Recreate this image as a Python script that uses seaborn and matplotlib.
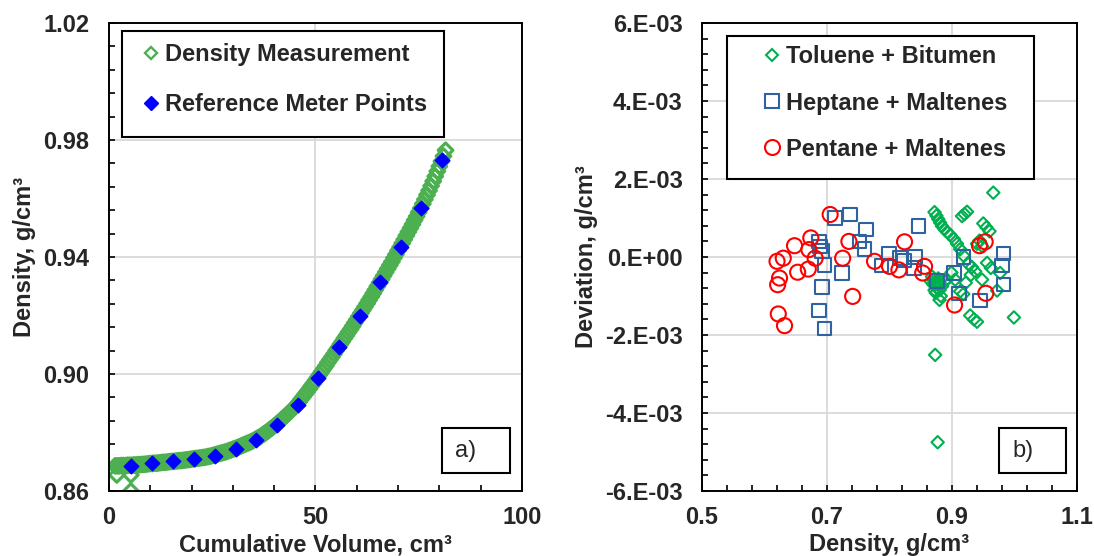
import matplotlib
matplotlib.use("Agg")
import matplotlib.pyplot as plt
from matplotlib.lines import Line2D
from matplotlib.patches import Rectangle
from matplotlib.ticker import MultipleLocator, FuncFormatter
import seaborn as sns

# ---- data: panel a) -------------------------------------------------------
meas_vol = [
    1.5, 2.0, 2.5, 3.0, 3.5, 4.0, 4.5, 5.0, 5.5, 6.0, 6.5, 7.0, 7.5, 8.0, 8.5,
    9.0, 9.5, 10.0, 10.5, 11.0, 11.5, 12.0, 12.5, 13.0, 13.5, 14.0, 14.5, 15.0,
    15.5, 16.0, 16.5, 17.0, 17.5, 18.0, 18.5, 19.0, 19.5, 20.0, 20.5, 21.0,
    21.5, 22.0, 22.5, 23.0, 23.5, 24.0, 24.5, 25.0, 25.5, 26.0, 26.5, 27.0,
    27.5, 28.0, 28.5, 29.0, 29.5, 30.0, 30.5, 31.0, 31.5, 32.0, 32.5, 33.0,
    33.5, 34.0, 34.5, 35.0, 35.5, 36.0, 36.5, 37.0, 37.5, 38.0, 38.5, 39.0,
    39.5, 40.0, 40.5, 41.0, 41.5, 42.0, 42.5, 43.0, 43.5, 44.0, 44.5, 45.0,
    45.5, 46.0, 46.5, 47.0, 47.5, 48.0, 48.5, 49.0, 49.5, 50.0, 50.5, 51.0,
    51.5, 52.0, 52.5, 53.0, 53.5, 54.0, 54.5, 55.0, 55.5, 56.0, 56.5, 57.0,
    57.5, 58.0, 58.5, 59.0, 59.5, 60.0, 60.5, 61.0, 61.5, 62.0, 62.5, 63.0,
    63.5, 64.0, 64.5, 65.0, 65.5, 66.0, 66.5, 67.0, 67.5, 68.0, 68.5, 69.0,
    69.5, 70.0, 70.5, 71.0, 71.5, 72.0, 72.5, 73.0, 73.5, 74.0, 74.5, 75.0,
    75.5, 76.0, 76.5, 77.0, 77.5, 78.0, 78.5, 79.0, 79.5, 80.0, 80.5, 81.0,
    81.5,
    1.9, 5.3, 5.3,
]
meas_dens = [
    0.8686, 0.8686, 0.8686, 0.8687, 0.8687, 0.8687, 0.8688, 0.8688, 0.8688,
    0.8689, 0.8689, 0.8690, 0.8690, 0.8691, 0.8691, 0.8692, 0.8693, 0.8694,
    0.8694, 0.8695, 0.8695, 0.8696, 0.8697, 0.8698, 0.8698, 0.8699, 0.8700,
    0.8701, 0.8701, 0.8702, 0.8703, 0.8704, 0.8704, 0.8705, 0.8706, 0.8707,
    0.8708, 0.8709, 0.8710, 0.8711, 0.8712, 0.8713, 0.8714, 0.8715, 0.8716,
    0.8718, 0.8719, 0.8721, 0.8723, 0.8725, 0.8727, 0.8729, 0.8731, 0.8733,
    0.8735, 0.8738, 0.8740, 0.8743, 0.8745, 0.8748, 0.8751, 0.8754, 0.8757,
    0.8760, 0.8763, 0.8766, 0.8769, 0.8773, 0.8777, 0.8781, 0.8785, 0.8790,
    0.8795, 0.8800, 0.8805, 0.8811, 0.8816, 0.8822, 0.8828, 0.8834, 0.8840,
    0.8847, 0.8853, 0.8860, 0.8866, 0.8873, 0.8880, 0.8887, 0.8895, 0.8904,
    0.8913, 0.8922, 0.8931, 0.8940, 0.8949, 0.8959, 0.8968, 0.8978, 0.8988,
    0.8998, 0.9008, 0.9018, 0.9028, 0.9039, 0.9049, 0.9059, 0.9069, 0.9080,
    0.9090, 0.9101, 0.9111, 0.9122, 0.9132, 0.9143, 0.9153, 0.9164, 0.9175,
    0.9186, 0.9197, 0.9208, 0.9219, 0.9230, 0.9241, 0.9253, 0.9264, 0.9276,
    0.9288, 0.9300, 0.9312, 0.9324, 0.9336, 0.9348, 0.9360, 0.9372, 0.9384,
    0.9397, 0.9409, 0.9422, 0.9434, 0.9447, 0.9460, 0.9473, 0.9486, 0.9499,
    0.9512, 0.9526, 0.9539, 0.9553, 0.9567, 0.9582, 0.9597, 0.9612, 0.9627,
    0.9643, 0.9659, 0.9676, 0.9693, 0.9710, 0.9727, 0.9745, 0.9765,
    0.8655, 0.8655, 0.8600,
]
ref_vol = [5.3, 10.5, 15.6, 20.7, 25.7, 30.7, 35.6, 40.6,
           45.7, 50.7, 55.7, 60.7, 65.7, 70.6, 75.6, 80.6]
ref_dens = [0.8687, 0.8695, 0.8701, 0.8709, 0.8721, 0.8745, 0.8776, 0.8827,
            0.8893, 0.8988, 0.9091, 0.9198, 0.9313, 0.9433, 0.9567, 0.9731]

# ---- data: panel b) (deviation in 1e-3 g/cm3) -----------------------------
tol_dens = [0.872, 0.875, 0.878, 0.881, 0.884, 0.888, 0.892, 0.897,
            0.903, 0.908, 0.913, 0.918,
            0.916, 0.920, 0.924, 0.950, 0.955, 0.960, 0.966, 0.944,
            0.940, 0.948,
            0.926, 0.932, 0.937, 0.956, 0.962, 0.977, 0.948, 0.972, 0.930,
            0.922, 0.913, 0.918, 0.905, 0.899,
            0.929, 0.935, 0.940, 0.999, 0.873, 0.877,
            0.866, 0.868, 0.870, 0.872, 0.874, 0.876, 0.878, 0.880, 0.878,
            0.876, 0.874, 0.872, 0.880, 0.882, 0.880, 0.884, 0.888, 0.892,
            0.870, 0.875, 0.877, 0.879]
tol_dev = [1.15, 1.06, 0.97, 0.88, 0.79, 0.71, 0.64, 0.57,
           0.46, 0.34, 0.20, 0.04,
           1.05, 1.10, 1.16, 0.86, 0.76, 0.66, 1.65, 0.42,
           0.34, 0.28,
           -0.18, -0.26, -0.37, -0.15, -0.28, -0.41, -0.58, -0.86, -0.46,
           -0.66, -0.88, -0.95, -0.58, -0.40,
           -1.50, -1.60, -1.66, -1.55, -2.51, -4.75,
           -0.62, -0.50, -0.58, -0.65, -0.70, -0.60, -0.55, -0.64, -0.72,
           -0.80, -0.92, -0.85, -0.85, -1.00, -1.10, -0.75, -0.62, -0.58,
           -0.70, -0.65, -0.63, -0.60]

hep_dens = [0.713, 0.737, 0.762, 0.752, 0.760, 0.687, 0.689, 0.692, 0.696,
            0.692, 0.687, 0.696, 0.724, 0.799, 0.787, 0.817, 0.823, 0.841,
            0.839, 0.846, 0.876, 0.903, 0.918, 0.911, 0.945, 0.982, 0.980,
            0.982]
hep_dev = [1.00, 1.09, 0.70, 0.40, 0.21, 0.40, 0.27, 0.15, -0.21,
           -0.77, -1.37, -1.83, -0.41, 0.09, -0.22, -0.03, -0.09, 0.00,
           -0.28, 0.79, -0.61, -0.41, 0.00, -0.93, -1.12, 0.09, -0.22,
           -0.71]

pen_dens = [0.705, 0.648, 0.674, 0.671, 0.681, 0.620, 0.630, 0.624, 0.621,
            0.653, 0.670, 0.735, 0.725, 0.741, 0.622, 0.632, 0.776, 0.800,
            0.815, 0.824, 0.856, 0.853, 0.904, 0.944, 0.953, 0.954]
pen_dev = [1.09, 0.29, 0.49, 0.19, -0.03, -0.11, -0.03, -0.54, -0.71,
           -0.39, -0.31, 0.40, -0.03, -1.01, -1.46, -1.76, -0.11, -0.24,
           -0.33, 0.39, -0.24, -0.41, -1.23, 0.29, 0.39, -0.93]

# ---- style ----------------------------------------------------------------
sns.set_style("white")
plt.rcParams["font.family"] = ["Liberation Sans", "DejaVu Sans"]
plt.rcParams["font.weight"] = "bold"
plt.rcParams["axes.labelweight"] = "bold"

GREEN_A = "#4CB050"
GREEN_B = "#00B050"
BLUE_SQ = "#2E62A0"
RED = "#FF0000"
BLUE = "#0000FF"
FS = 17

fig = plt.figure(figsize=(10.94, 5.56), dpi=100)
ax1 = fig.add_axes([0.0996, 0.1169, 0.3775, 0.8417])
ax2 = fig.add_axes([0.6417, 0.1169, 0.3428, 0.8417])


def scat(ax, x, y, marker, s, color, filled=False, lw=1.5, z=2):
    sns.scatterplot(x=x, y=y, ax=ax, marker=marker, s=s, color=color,
                    edgecolor=color, linewidth=lw, zorder=z, legend=False)
    coll = ax.collections[-1]
    if not filled:
        coll.set_facecolor("none")
    coll.set_edgecolor(color)


def frame_box(ax, x0, y0, x1, y1):
    ax.add_patch(Rectangle((x0, y0), x1 - x0, y1 - y0, transform=ax.transAxes,
                           facecolor="white", edgecolor="black", lw=1.5,
                           zorder=5, clip_on=False))


def style_axes(ax):
    ax.grid(True, which="major", color="#D9D9D9", lw=1.3)
    ax.set_axisbelow(True)
    for sp in ax.spines.values():
        sp.set_color("black")
        sp.set_linewidth(1.4)
    ax.tick_params(which="both", direction="in", length=4, width=1.2,
                   top=False, right=False, bottom=True, left=True,
                   color="black")
    ax.tick_params(axis="y", which="major", pad=14, labelsize=FS)
    ax.tick_params(axis="x", which="major", pad=11, labelsize=FS)
    for lab in ax.get_xticklabels() + ax.get_yticklabels():
        lab.set_fontweight("bold")


# ---- panel a) -------------------------------------------------------------
scat(ax1, meas_vol, meas_dens, "D", 55, GREEN_A, lw=2.3)
scat(ax1, ref_vol, ref_dens, "D", 55, BLUE, filled=True, lw=1.0, z=3)
ax1.set_xlim(0, 100)
ax1.set_ylim(0.86, 1.02)
ax1.xaxis.set_major_locator(MultipleLocator(50))
ax1.xaxis.set_minor_locator(MultipleLocator(10))
ax1.yaxis.set_major_locator(MultipleLocator(0.04, offset=0.02))
ax1.yaxis.set_minor_locator(MultipleLocator(0.008, offset=0.004))
ax1.yaxis.set_major_formatter(FuncFormatter(lambda v, p: f"{v:.2f}"))
ax1.xaxis.set_major_formatter(FuncFormatter(lambda v, p: f"{v:.0f}"))
style_axes(ax1)
ax1.set_xlabel("Cumulative Volume, cm³", fontsize=FS, fontweight="bold",
               labelpad=3)
ax1.set_ylabel("Density, g/cm³", fontsize=FS, fontweight="bold", labelpad=5)

frame_box(ax1, 0.031, 0.756, 0.811, 0.983)
hA = [Line2D([], [], ls="none", marker="D", ms=6.1, mfc="none", mec=GREEN_A,
             mew=1.7, label="Density Measurement"),
      Line2D([], [], ls="none", marker="D", ms=7.4, mfc=BLUE, mec=BLUE,
             label="Reference Meter Points")]
legA = ax1.legend(handles=hA, loc="upper left", bbox_to_anchor=(0.072, 0.957),
                  frameon=False, prop={"size": FS, "weight": "bold"},
                  handlelength=1.0, handletextpad=0.1, borderpad=0,
                  borderaxespad=0, labelspacing=1.15)
legA.set_zorder(6)

frame_box(ax1, 0.806, 0.038, 0.970, 0.135)
ax1.text(0.864, 0.086, "a)", transform=ax1.transAxes, ha="center",
         va="center", fontsize=FS, fontweight="normal", zorder=6)

# ---- panel b) -------------------------------------------------------------
tol_dev_v = [d * 1e-3 for d in tol_dev]
hep_dev_v = [d * 1e-3 for d in hep_dev]
pen_dev_v = [d * 1e-3 for d in pen_dev]
scat(ax2, tol_dens, tol_dev_v, "D", 40, GREEN_B, lw=1.5)
scat(ax2, hep_dens, hep_dev_v, "s", 95, BLUE_SQ, lw=1.5)
scat(ax2, pen_dens, pen_dev_v, "o", 118, RED, lw=1.5)
ax2.set_xlim(0.5, 1.1)
ax2.set_ylim(-6e-3, 6e-3)
ax2.xaxis.set_major_locator(MultipleLocator(0.2, offset=0.1))
ax2.xaxis.set_minor_locator(MultipleLocator(0.04, offset=0.02))
ax2.yaxis.set_major_locator(MultipleLocator(2e-3))
ax2.yaxis.set_minor_locator(MultipleLocator(0.4e-3))
ax2.xaxis.set_major_formatter(FuncFormatter(lambda v, p: f"{v:.1f}"))
ax2.yaxis.set_major_formatter(FuncFormatter(
    lambda v, p: f"{(0.0 if abs(v) < 1e-12 else v):#.0E}"))
style_axes(ax2)
ax2.set_xlabel("Density, g/cm³", fontsize=FS, fontweight="bold", labelpad=3)
ax2.set_ylabel("Deviation, g/cm³", fontsize=FS, fontweight="bold",
               labelpad=5)

frame_box(ax2, 0.067, 0.667, 0.885, 0.972)
hB = [Line2D([], [], ls="none", marker="D", ms=6.3, mfc="none", mec=GREEN_B,
             mew=1.5, label="Toluene + Bitumen"),
      Line2D([], [], ls="none", marker="s", ms=9.7, mfc="none", mec=BLUE_SQ,
             mew=1.5, label="Heptane + Maltenes"),
      Line2D([], [], ls="none", marker="o", ms=10.8, mfc="none", mec=RED,
             mew=1.5, label="Pentane + Maltenes")]
legB = ax2.legend(handles=hB, loc="upper left", bbox_to_anchor=(0.155, 0.952),
                  frameon=False, prop={"size": FS, "weight": "bold"},
                  handlelength=1.0, handletextpad=0.1, borderpad=0,
                  borderaxespad=0, labelspacing=0.98)
legB.set_zorder(6)

frame_box(ax2, 0.792, 0.038, 0.971, 0.135)
ax2.text(0.856, 0.086, "b)", transform=ax2.transAxes, ha="center",
         va="center", fontsize=FS, fontweight="normal", zorder=6)

fig.savefig("out.png", dpi=100)
plt.close(fig)
